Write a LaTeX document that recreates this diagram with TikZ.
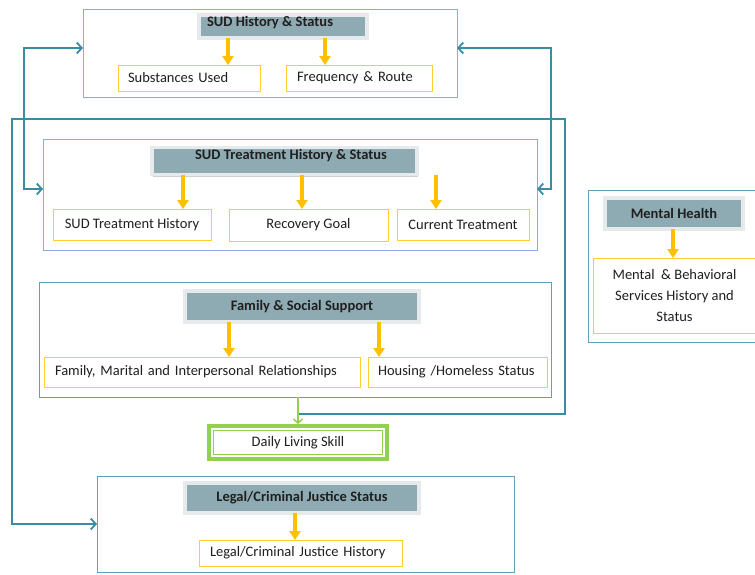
\documentclass[tikz,border=0pt]{standalone}
\usepackage{fontspec}
\setmainfont{Carlito}
\usetikzlibrary{arrows.meta,calc,shadows}
\definecolor{hdrfill}{HTML}{8EABB3}
\definecolor{hdrglow}{HTML}{E6EAEC}
\definecolor{grpblue}{HTML}{8EAADB}
\definecolor{grpteal}{HTML}{5EA2B5}
\definecolor{gold}{HTML}{FFC000}
\definecolor{goldline}{HTML}{FFCC33}
\definecolor{connc}{HTML}{3A8CA3}
\definecolor{lgreen}{HTML}{92D050}
\definecolor{txt}{HTML}{1F1F1F}
\begin{document}
\begin{tikzpicture}[x=1pt,y=-1pt,
  font=\fontsize{14.5}{17}\selectfont, text=txt,
  box/.style={rectangle, inner sep=0pt, outer sep=0pt},
  grp/.style={box, draw=#1, line width=1pt},
  hdr/.style={box, fill=hdrfill, draw=hdrglow, line width=3.5pt, font=\fontsize{14.5}{17}\selectfont\bfseries,
    drop shadow={shadow xshift=0.5pt, shadow yshift=-2pt, fill=black!30, opacity=0.6}},
  htxt/.style={inner sep=0pt, font=\fontsize{14.5}{17}\selectfont\bfseries},
  child/.style={box, draw=goldline, line width=1pt},
  garrow/.style={draw=gold, line width=3.5pt, -{Triangle[length=9pt,width=11pt]}},
  tconn/.style={draw=connc, line width=1.8pt},
  gconn/.style={draw=lgreen, line width=1.5pt, -{Straight Barb[length=4pt,width=9pt,line width=1.5pt]}}
]
\useasboundingbox[fill=white] (0,0) rectangle (755,574);
% group boxes
\node[grp=grpblue, minimum width=374pt, minimum height=88pt] (g1) at (270,53) {};
\node[grp=grpblue, minimum width=494pt, minimum height=111pt] (g2) at (290,194.5) {};
\node[grp=grpteal, minimum width=512pt, minimum height=115pt] (g3) at (295,339.5) {};
\node[grp=grpteal, minimum width=417pt, minimum height=96pt] (g4) at (305.5,524) {};
\node[grp=grpteal, minimum width=168pt, minimum height=152pt] (g5) at (672,266) {};
% headers
\node[hdr, minimum width=168pt, minimum height=23pt] (h1) at (283,26.5) {};
\node[htxt] (h1t) at (270,23) {SUD History \& Status};
\node[hdr, minimum width=265pt, minimum height=27pt] (h2) at (284.5,161) {};
\node[htxt] (h2t) at (291,156) {SUD Treatment History \& Status};
\node[hdr, minimum width=234pt, minimum height=31pt] (h3) at (302,306.5) {Family \& Social Support};
\node[hdr, minimum width=234pt, minimum height=30pt] (h4) at (302,498) {Legal/Criminal Justice Status};
\node[hdr, minimum width=138pt, minimum height=31pt] (h5) at (674,213.5) {Mental Health};
% children
\node[child, minimum height=26pt, text width=122pt, inner xsep=10pt, align=left] (c1a) at (189,78) {Substances Used};
\node[child, minimum height=26pt, text width=124pt, inner xsep=11pt, align=left] (c1b) at (359,78) {Frequency \& Route};
\node[child, minimum width=158pt, minimum height=31pt] (c2a) at (132,224.5) {SUD Treatment History};
\node[child, minimum width=159pt, minimum height=32pt] (c2b) at (308.5,225) {Recovery Goal};
\node[child, minimum width=132pt, minimum height=31pt] (c2c) at (463,224.5) {Current Treatment};
\node[child, minimum height=30pt, text width=294pt, inner xsep=11pt, align=left] (c3a) at (202,372) {Family, Marital and Interpersonal Relationships};
\node[child, minimum height=30pt, text width=159pt, inner xsep=10pt, align=left] (c3b) at (457.5,372) {Housing /Homeless Status};
\node[child, minimum height=26pt, text width=181pt, inner xsep=11pt, align=left] (c4) at (300.5,553) {Legal/Criminal Justice History};
\node[child, minimum width=163pt, minimum height=75pt, align=center, font=\fontsize{14.5}{21}\selectfont] (c5) at (674.5,295.5) {Mental \ \& Behavioral\\Services History and\\Status};
% daily living skill
\node[box, draw=lgreen, line width=4pt, outer sep=2pt, minimum width=178pt, minimum height=33pt] (dls) at (298,442.5) {Daily Living Skill};
\draw[lgreen, line width=1.3pt] ($(dls.south west)+(6.5,-6.5)$) rectangle ($(dls.north east)+(-6.5,6.5)$);
% gold arrows
\coordinate (a1) at (228,0); \coordinate (a2) at (325,0);
\coordinate (b1) at (183,0); \coordinate (b2) at (302,0); \coordinate (b3) at (436,0);
\coordinate (f1) at (229,0); \coordinate (f2) at (379,0);
\coordinate (l1) at (295,0); \coordinate (m1) at (673,0);
\draw[garrow] (h1.south -| a1) -- (c1a.north -| a1);
\draw[garrow] (h1.south -| a2) -- (c1b.north -| a2);
\draw[garrow] (h2.south -| b1) -- (c2a.north -| b1);
\draw[garrow] (h2.south -| b2) -- (c2b.north -| b2);
\draw[garrow] (h2.south -| b3) -- (c2c.north -| b3);
\draw[garrow] (h3.south -| f1) -- (c3a.north -| f1);
\draw[garrow] (h3.south -| f2) -- (c3b.north -| f2);
\draw[garrow] (h4.south -| l1) -- (c4.north -| l1);
\draw[garrow] (h5.south -| m1) -- (c5.north -| m1);
% teal connectors
\coordinate (lt) at (24,48); \coordinate (lb) at (24,189);
\coordinate (rt) at (551,48); \coordinate (rb) at (551,189);
\draw[tconn, {Straight Barb[length=5pt,width=11pt,line width=1.8pt]}-{Straight Barb[length=5pt,width=11pt,line width=1.8pt]}]
  (g1.west |- lt) -- (lt) -- (lb) -- (g2.west |- lb);
\draw[tconn, {Straight Barb[length=5pt,width=11pt,line width=1.8pt]}-{Straight Barb[length=5pt,width=11pt,line width=1.8pt]}]
  (g1.east |- rt) -- (rt) -- (rb) -- (g2.east |- rb);
\coordinate (loopy) at (0,414);
\coordinate (j) at (dls.north |- loopy);
\coordinate (rbot) at (565,414); \coordinate (rtop) at (565,119);
\coordinate (ltop) at (12,119); \coordinate (lbot) at (12,524);
\draw[tconn, -{Straight Barb[length=5pt,width=11pt,line width=1.8pt]}]
  (j) -- (rbot) -- (rtop) -- (ltop) -- (lbot) -- (g4.west |- lbot);
% green connector
\draw[gconn] (dls.north |- g3.south) -- (dls.north);
\end{tikzpicture}
\end{document}
